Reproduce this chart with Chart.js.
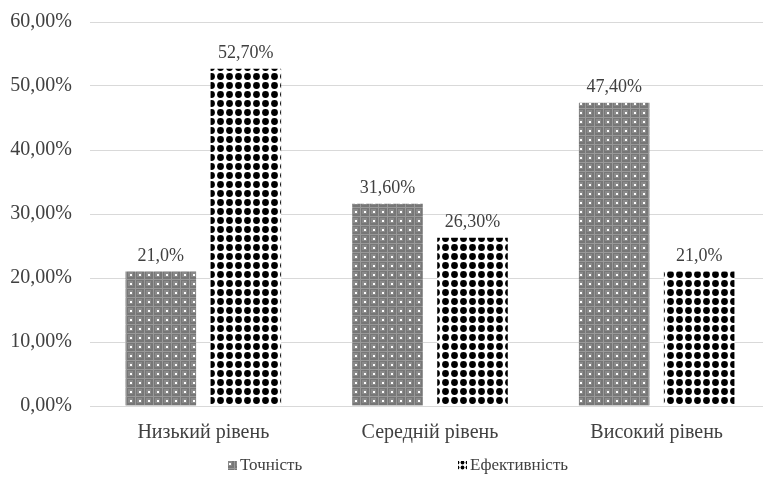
<!DOCTYPE html>
<html>
<head>
<meta charset="utf-8">
<script src="https://cdn.jsdelivr.net/npm/chart.js@4"></script>
<style>
  html, body { margin: 0; padding: 0; background: #fff; overflow: hidden; }
</style>
</head>
<body>
<canvas id="chart" width="772" height="477"></canvas>
<script>
// data
const categories = ['Низький рівень', 'Середній рівень', 'Високий рівень'];
const seriesNames = ['Точність', 'Ефективність'];
const accuracy = [21.0, 31.6, 47.4];
const efficiency = [52.7, 26.3, 21.0];
const accuracyLabels = ['21,0%', '31,60%', '47,40%'];
const efficiencyLabels = ['52,70%', '26,30%', '21,0%'];
const yTicks = [0, 10, 20, 30, 40, 50, 60];
const yTickLabels = ['0,00%', '10,00%', '20,00%', '30,00%', '40,00%', '50,00%', '60,00%'];

const FONT = '"Liberation Serif", "Times New Roman", serif';
const TEXT = '#404040';

// fill patterns
function grayPattern(ctx) {
  const t = document.createElement('canvas');
  t.width = 9; t.height = 9;
  const c = t.getContext('2d');
  c.fillStyle = '#777';
  c.fillRect(0, 0, 9, 9);
  c.fillStyle = '#999';
  c.fillRect(0, 0, 9, 1);
  c.fillRect(0, 0, 1, 9);
  c.fillStyle = '#8a8a8a';
  c.fillRect(2, 2, 5, 5);
  c.fillStyle = '#fff';
  c.fillRect(4, 4, 2, 2);
  return ctx.createPattern(t, 'repeat');
}
function dotPattern(ctx, size, r) {
  const t = document.createElement('canvas');
  t.width = size; t.height = size;
  const c = t.getContext('2d');
  c.fillStyle = '#fff';
  c.fillRect(0, 0, size, size);
  c.fillStyle = '#000';
  c.beginPath();
  c.arc(size / 2, size / 2, r, 0, Math.PI * 2);
  c.fill();
  return ctx.createPattern(t, 'repeat');
}

const canvas = document.getElementById('chart');
const ctx = canvas.getContext('2d');
const fills = [grayPattern(ctx), dotPattern(ctx, 9, 3.4)];
const legendFills = [fills[0], dotPattern(ctx, 5, 1.9)];
const barLabels = [accuracyLabels, efficiencyLabels];

// value labels over the bars
const valueLabels = {
  id: 'valueLabels',
  afterDatasetsDraw(chart) {
    const c = chart.ctx;
    c.save();
    c.font = '18px ' + FONT;
    c.fillStyle = TEXT;
    c.textAlign = 'center';
    c.textBaseline = 'bottom';
    chart.data.datasets.forEach((ds, di) => {
      chart.getDatasetMeta(di).data.forEach((bar, i) => {
        c.fillText(barLabels[di][i], bar.x, bar.y - 6);
      });
    });
    c.restore();
  }
};

// legend drawn by hand, items are spaced wide apart
const wideLegend = {
  id: 'wideLegend',
  afterDraw(chart) {
    const c = chart.ctx;
    const xs = [228, 458];
    const y = 466;
    c.save();
    c.font = '17px ' + FONT;
    c.textBaseline = 'middle';
    seriesNames.forEach((name, i) => {
      c.fillStyle = legendFills[i];
      c.fillRect(xs[i], y - 5, 9, 9);
      c.fillStyle = TEXT;
      c.fillText(name, xs[i] + 12, y);
    });
    c.restore();
  }
};

new Chart(canvas, {
  type: 'bar',
  data: {
    labels: categories,
    datasets: [
      { label: seriesNames[0], data: accuracy, backgroundColor: fills[0] },
      { label: seriesNames[1], data: efficiency, backgroundColor: fills[1] }
    ]
  },
  options: {
    responsive: false,
    animation: false,
    layout: { padding: { top: 0, right: 2, bottom: 17, left: 0 } },
    datasets: { bar: { categoryPercentage: 0.75, barPercentage: 0.83 } },
    scales: {
      x: {
        grid: { display: false, drawTicks: false },
        border: { display: false },
        ticks: { color: TEXT, font: { family: FONT, size: 20 }, padding: 15 }
      },
      y: {
        min: 0,
        max: 60,
        afterBuildTicks(axis) { axis.ticks = yTicks.map(v => ({ value: v })); },
        afterFit(axis) { axis.width = 90; axis.paddingTop = 22; },
        grid: { color: '#d9d9d9', drawTicks: false },
        border: { display: false },
        ticks: {
          color: TEXT,
          font: { family: FONT, size: 20 },
          padding: 18,
          callback: (v) => yTickLabels[yTicks.indexOf(v)]
        }
      }
    },
    plugins: {
      legend: { display: false },
      tooltip: { enabled: false }
    }
  },
  plugins: [valueLabels, wideLegend]
});
</script>
</body>
</html>
